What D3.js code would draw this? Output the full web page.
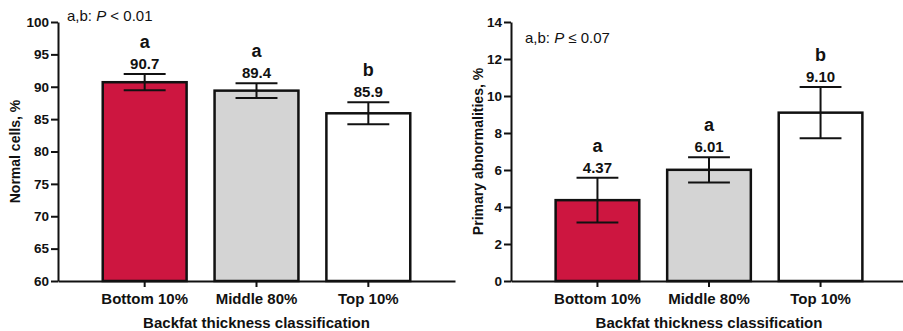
<!DOCTYPE html>
<html>
<head>
<meta charset="utf-8">
<script src="https://cdn.jsdelivr.net/npm/d3@7"></script>
<style>
  body { margin: 0; background: #fff; }
  svg { display: block; font-family: "Liberation Sans", Arial, Helvetica, sans-serif; }
</style>
</head>
<body>
<svg id="chart" width="903" height="331"></svg>
<script>
const categories = ["Bottom 10%", "Middle 80%", "Top 10%"];
const barColors = ["#cd1640", "#d4d4d4", "#ffffff"];

const normalCells = [90.7, 89.4, 85.9];
const normalCellsSE = [1.25, 1.15, 1.7];
const normalLetters = ["a", "a", "b"];
const normalTicks = [60, 65, 70, 75, 80, 85, 90, 95, 100];

const primaryAbn = [4.37, 6.01, 9.10];
const primaryAbnSE = [1.21, 0.68, 1.38];
const primaryLetters = ["a", "a", "b"];
const primaryTicks = [0, 2, 4, 6, 8, 10, 12, 14];

const svg = d3.select("#chart");

function drawPanel(opts) {
  const g = svg.append("g");
  const x = d3.scaleBand()
    .domain(categories)
    .range([opts.left, opts.right])
    .paddingInner(0.25)
    .paddingOuter(0.4);
  const y = d3.scaleLinear()
    .domain(opts.domain)
    .range([281, 22]);

  // bars
  g.selectAll("rect.bar")
    .data(categories)
    .join("rect")
    .attr("class", "bar")
    .attr("x", d => x(d))
    .attr("y", (d, i) => y(opts.values[i]))
    .attr("width", x.bandwidth())
    .attr("height", (d, i) => y(opts.domain[0]) - y(opts.values[i]))
    .attr("fill", (d, i) => barColors[i])
    .attr("stroke", "#111")
    .attr("stroke-width", 2.5);

  // error bars
  const capHalf = x.bandwidth() / 4;
  categories.forEach((c, i) => {
    const cx = x(c) + x.bandwidth() / 2;
    const hi = y(opts.values[i] + opts.se[i]);
    const lo = y(opts.values[i] - opts.se[i]);
    const eb = g.append("g")
      .attr("stroke", "#111")
      .attr("stroke-width", 2);
    eb.append("line").attr("x1", cx).attr("x2", cx).attr("y1", hi).attr("y2", lo);
    eb.append("line").attr("x1", cx - capHalf).attr("x2", cx + capHalf).attr("y1", hi).attr("y2", hi);
    eb.append("line").attr("x1", cx - capHalf).attr("x2", cx + capHalf).attr("y1", lo).attr("y2", lo);

    g.append("text")
      .attr("x", cx)
      .attr("y", hi - 5)
      .attr("text-anchor", "middle")
      .attr("font-size", "15px")
      .attr("font-weight", "bold")
      .attr("fill", "#111")
      .text(d3.format(opts.fmt)(opts.values[i]));

    g.append("text")
      .attr("x", cx)
      .attr("y", hi - 26)
      .attr("text-anchor", "middle")
      .attr("font-size", "18px")
      .attr("font-weight", "bold")
      .attr("fill", "#111")
      .text(opts.letters[i]);
  });

  // y axis
  const yAxis = g.append("g")
    .attr("transform", `translate(${opts.left},0)`)
    .call(d3.axisLeft(y).tickValues(opts.ticks).tickSize(7).tickSizeOuter(0).tickPadding(2));
  yAxis.selectAll("path, line").attr("stroke", "#111").attr("stroke-width", 2);
  yAxis.selectAll("text")
    .attr("font-size", "13.5px")
    .attr("font-weight", "bold")
    .attr("font-family", null)
    .attr("fill", "#111");

  // x axis
  const xAxis = g.append("g")
    .attr("transform", "translate(0,281)")
    .call(d3.axisBottom(x).tickSize(6).tickSizeOuter(0).tickPadding(6));
  xAxis.selectAll("path, line").attr("stroke", "#111").attr("stroke-width", 2);
  xAxis.selectAll("text")
    .attr("font-size", "15px")
    .attr("font-weight", "bold")
    .attr("font-family", null)
    .attr("fill", "#111");

  // axis titles
  g.append("text")
    .attr("transform", `translate(${opts.titleX},${(22 + 281) / 2}) rotate(-90)`)
    .attr("text-anchor", "middle")
    .attr("dominant-baseline", "central")
    .attr("font-size", "14px")
    .attr("font-weight", "bold")
    .attr("fill", "#111")
    .text(opts.yTitle);

  g.append("text")
    .attr("x", (opts.left + opts.right) / 2)
    .attr("y", 328)
    .attr("text-anchor", "middle")
    .attr("font-size", "15px")
    .attr("font-weight", "bold")
    .attr("fill", "#111")
    .text("Backfat thickness classification");

  // P-value note
  const note = g.append("text")
    .attr("x", opts.noteX)
    .attr("y", opts.noteY)
    .attr("font-size", "15px")
    .attr("fill", "#111");
  note.append("tspan").text("a,b: ");
  note.append("tspan").attr("font-style", "italic").text("P");
  note.append("tspan").text(opts.noteRest);
}

drawPanel({
  left: 58, right: 455,
  domain: [60, 100],
  ticks: normalTicks,
  values: normalCells, se: normalCellsSE, letters: normalLetters,
  fmt: ".1f",
  yTitle: "Normal cells, %",
  titleX: 15,
  noteX: 67, noteY: 21, noteRest: " < 0.01"
});

drawPanel({
  left: 511, right: 907,
  domain: [0, 14],
  ticks: primaryTicks,
  values: primaryAbn, se: primaryAbnSE, letters: primaryLetters,
  fmt: ".2f",
  yTitle: "Primary abnormalities, %",
  titleX: 478,
  noteX: 525, noteY: 43, noteRest: " \u2264 0.07"
});
</script>
</body>
</html>
